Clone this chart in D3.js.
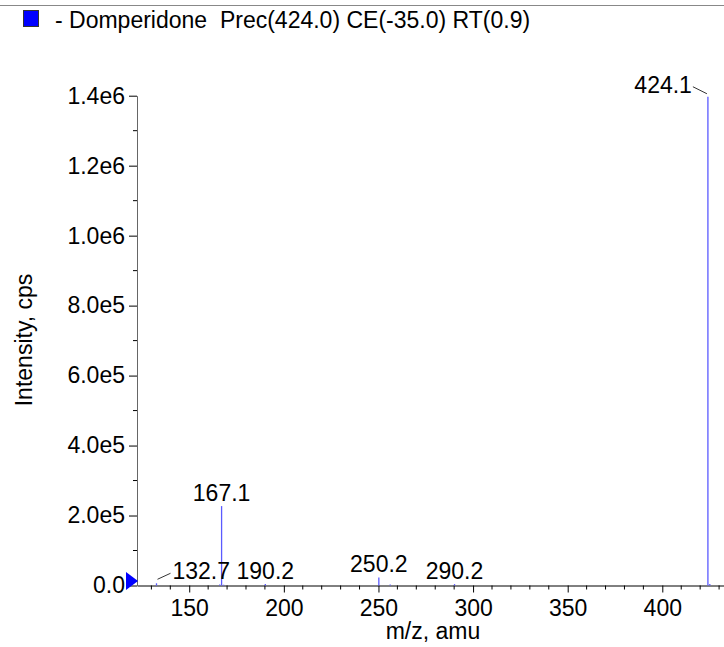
<!DOCTYPE html>
<html>
<head>
<meta charset="utf-8">
<script src="https://cdn.jsdelivr.net/npm/d3@7"></script>
<style>
  body { margin: 0; background: #fff; }
  text { font-family: "Liberation Sans", Arial, sans-serif; white-space: pre; }
</style>
</head>
<body>
<div id="vis"></div>
<script>
const WIDTH = 724;
const HEIGHT = 647;

// peaks
const mzValues = [132.7, 166.1, 167.1, 168.2, 190.2, 250.2, 256.2, 290.2, 424.1, 425.1];
const intensities = [6.3e3, 3.0e3, 2.27e5, 2.5e3, 4.3e3, 2.3e4, 3.0e3, 4.0e3, 1.397e6, 4.0e3];
const labelledPeaks = [132.7, 167.1, 190.2, 250.2, 290.2, 424.1];

const xTicks = [150, 200, 250, 300, 350, 400];
const yTicks = [0, 2e5, 4e5, 6e5, 8e5, 1e6, 1.2e6, 1.4e6];
const xDomain = [122.4, 432.6];
const yDomain = [0, 1.4e6];
const markerLevel = 1.3e4;

const title = "- Domperidone  Prec(424.0) CE(-35.0) RT(0.9)";
const xTitle = "m/z, amu";
const yTitle = "Intensity, cps";

const margin = { top: 95.7, right: 0, bottom: 61.5, left: 137 };

const svg = d3.select("#vis").append("svg").attr("width", WIDTH).attr("height", HEIGHT);

const x = d3.scaleLinear().domain(xDomain).range([margin.left, WIDTH - margin.right]);
const y = d3.scaleLinear().domain(yDomain).range([HEIGHT - margin.bottom, margin.top]);

const FS = 23;

// header rule + legend
svg.append("line")
  .attr("x1", 0).attr("x2", WIDTH).attr("y1", 5.5).attr("y2", 5.5)
  .attr("stroke", "#888").attr("stroke-width", 1);
svg.append("rect")
  .attr("x", 23.5).attr("y", 10.5).attr("width", 15).attr("height", 16)
  .attr("fill", "#0000ff").attr("stroke", "#333");
svg.append("text")
  .attr("x", 55).attr("y", 28).attr("font-size", FS).text(title);

// minor ticks
const xMinor = d3.range(130, 431, 10).filter(d => d % 50 !== 0);
svg.append("g").selectAll("line").data(xMinor).join("line")
  .attr("x1", d => x(d)).attr("x2", d => x(d))
  .attr("y1", y(0)).attr("y2", y(0) + 4)
  .attr("stroke", "#000");
const yMinor = d3.range(1e5, 1.4e6, 2e5);
svg.append("g").selectAll("line").data(yMinor).join("line")
  .attr("x1", x.range()[0] - 4).attr("x2", x.range()[0])
  .attr("y1", d => y(d)).attr("y2", d => y(d))
  .attr("stroke", "#000");

// axes
const xAxis = d3.axisBottom(x).tickValues(xTicks).tickSize(7).tickPadding(7).tickSizeOuter(0);
const gx = svg.append("g").attr("transform", "translate(0," + y(0) + ")").call(xAxis);
gx.select(".domain").attr("stroke", "#000");
gx.selectAll("text").attr("font-size", FS).attr("font-family", "Liberation Sans, Arial, sans-serif").attr("fill", "#000");

const fmtY = d => d === 0 ? "0.0" : d.toExponential(1).replace("e+", "e");
const yAxis = d3.axisLeft(y).tickValues(yTicks).tickFormat(fmtY).tickSize(8).tickPadding(4).tickSizeOuter(0);
const gy = svg.append("g").attr("transform", "translate(" + x.range()[0] + ",0)").call(yAxis);
gy.select(".domain").attr("stroke", "#666");
gy.selectAll("text").attr("font-size", FS).attr("font-family", "Liberation Sans, Arial, sans-serif").attr("fill", "#000");

// stick spectrum
const peaks = mzValues.map((m, i) => ({ mz: m, val: intensities[i] }));
svg.append("g").selectAll("line").data(peaks).join("line")
  .attr("x1", d => x(d.mz)).attr("x2", d => x(d.mz))
  .attr("y1", y(0)).attr("y2", d => y(d.val))
  .attr("stroke", "#5a5aff").attr("stroke-width", 1.3);

// peak labels, pushed aside with a leader line where they would clip
const lab = svg.append("g");
peaks.filter(d => labelledPeaks.includes(d.mz)).forEach(d => {
  const px = x(d.mz);
  const top = y(d.val);
  const by = Math.min(top - 5, y(0) - 6);
  const t = lab.append("text").attr("font-size", FS).text(d.mz.toFixed(1));
  const w = t.node().getComputedTextLength();
  if (px + w / 2 > WIDTH - 20) {
    t.attr("x", px - 16).attr("y", top - 4).attr("text-anchor", "end");
    lab.append("line").attr("x1", px - 15).attr("y1", top - 10).attr("x2", px - 1).attr("y2", top - 3)
      .attr("stroke", "#000").attr("stroke-width", 0.8);
  } else if (px - w / 2 < x.range()[0] + 4) {
    t.attr("x", px + 16).attr("y", by + 1).attr("text-anchor", "start");
    lab.append("line").attr("x1", px + 1).attr("y1", top - 4).attr("x2", px + 14).attr("y2", top - 10)
      .attr("stroke", "#000").attr("stroke-width", 0.8);
  } else {
    t.attr("x", px).attr("y", by).attr("text-anchor", "middle");
  }
});

// level marker on the y axis
const my = y(markerLevel);
const mx = x.range()[0];
svg.append("path")
  .attr("d", "M" + (mx - 11) + "," + (my - 9) + "L" + (mx + 1) + "," + my + "L" + (mx - 11) + "," + (my + 9) + "Z")
  .attr("fill", "#0000ff");

// axis titles
svg.append("text")
  .attr("x", 433).attr("y", 639).attr("text-anchor", "middle").attr("font-size", FS).text(xTitle);
svg.append("text")
  .attr("transform", "translate(32,340) rotate(-90)")
  .attr("text-anchor", "middle").attr("font-size", FS).text(yTitle);
</script>
</body>
</html>
